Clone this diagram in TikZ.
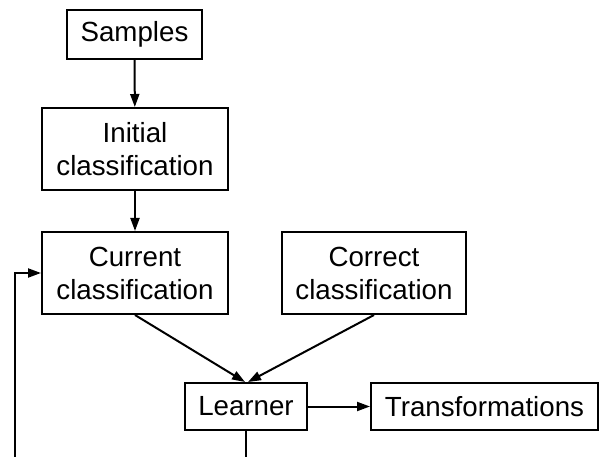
\documentclass[tikz,border=0pt]{standalone}
\usepackage{fontspec}
\setmainfont{Liberation Sans}
\usetikzlibrary{arrows.meta}
\begin{document}
\begin{tikzpicture}[x=1pt,y=-1pt,
  box/.style={draw=black,line width=2pt,inner sep=0pt,align=center,
    font=\fontsize{27.7}{33}\selectfont},
  arr/.style={draw=black,line width=2pt,-{Triangle[length=13pt,width=9pt]}}]
\useasboundingbox (0,0) rectangle (600,457);
\node[box,minimum width=135,minimum height=49] (S) at (134.5,34.5) {Samples};
\node[box,minimum width=186,minimum height=82] (I) at (135,149) {Initial\\classification};
\node[box,minimum width=186,minimum height=82] (C) at (135,273) {Current\\classification};
\node[box,minimum width=184,minimum height=82] (K) at (374,273) {Correct\\classification};
\node[box,minimum width=122,minimum height=47] (L) at (246,406.5) {Learner};
\node[box,minimum width=227,minimum height=47] (T) at (484.5,406.5) {Transformations};
\coordinate (fb) at (15,458);
\draw[arr] (S) -- (I);
\draw[arr] (I) -- (C);
\draw[arr] (C.south) -- ([xshift=-1]L.north);
\draw[arr] (K.south) -- ([xshift=2]L.north);
\draw[arr] (L) -- (T);
\draw[arr] (L.south) |- (fb) |- (C.west);
\end{tikzpicture}
\end{document}
